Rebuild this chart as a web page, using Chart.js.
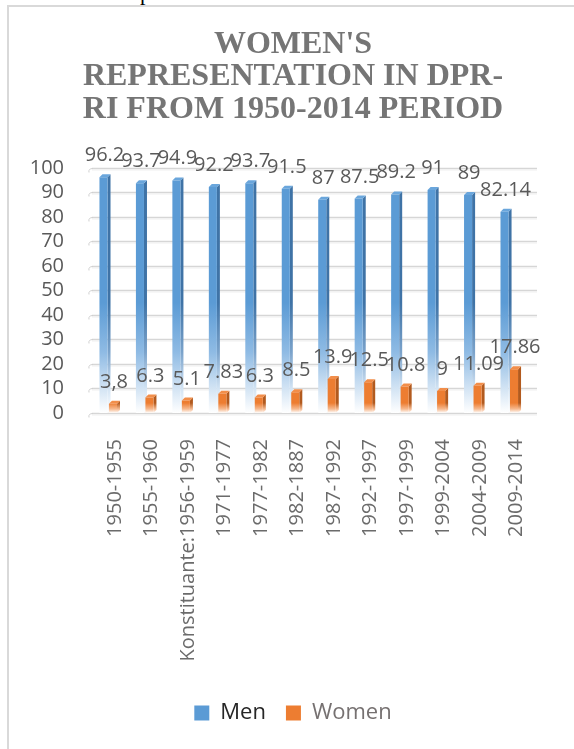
<!DOCTYPE html>
<html><head><meta charset="utf-8">
<script src="https://cdn.jsdelivr.net/npm/chart.js@4.4.0/dist/chart.umd.min.js"></script>
<style>
html,body{margin:0;padding:0;background:#fff;}
body{width:574px;height:749px;position:relative;overflow:hidden;}
#frame{position:absolute;left:7px;top:5px;right:-10px;bottom:-10px;border-left:2px solid #d9d9d9;border-top:2px solid #d9d9d9;}
#pchar{position:absolute;left:140px;top:-18px;font-family:"Liberation Serif",serif;font-size:22px;line-height:22px;color:#000;}
#wrap{position:absolute;left:0;top:0;width:574px;height:749px;}
</style></head><body>
<div id="pchar">p</div>
<div id="frame"></div>
<div id="wrap"><canvas id="c" width="574" height="749"></canvas></div>
<script>
const titleLines = ["WOMEN'S", "REPRESENTATION IN DPR-", "RI FROM 1950-2014 PERIOD"];
const categories = ['1950-1955','1955-1960','Konstituante:1956-1959','1971-1977','1977-1982','1982-1887','1987-1992','1992-1997','1997-1999','1999-2004','2004-2009','2009-2014'];
const seriesNames = ['Men','Women'];
const menValues = [96.2, 93.7, 94.9, 92.2, 93.7, 91.5, 87, 87.5, 89.2, 91, 89, 82.14];
const womenValues = [3.8, 6.3, 5.1, 7.83, 6.3, 8.5, 13.9, 12.5, 10.8, 9, 11.09, 17.86];
const menLabels = ['96.2','93.7','94.9','92.2','93.7','91.5','87','87.5','89.2','91','89','82.14'];
const womenLabels = ['3,8','6.3','5.1','7.83','6.3','8.5','13.9','12.5','10.8','9','11.09','17.86'];
const yMin = 0, yMax = 100, yStep = 10;

const BLUE = '#5b9bd5', BLUE_SIDE = '#3f73a6', BLUE_TOP = '#6aa6dc';
const ORANGE = '#ed7d31', ORANGE_SIDE = '#b25a1e', ORANGE_TOP = '#f28e4a';

function blueGrad(chart, color) {
  const ys = chart.scales.y;
  const g = chart.ctx.createLinearGradient(0, ys.getPixelForValue(45), 0, ys.getPixelForValue(0));
  g.addColorStop(0, color);
  g.addColorStop(0.45, color === BLUE ? '#8fbbe4' : '#7ba3cb');
  g.addColorStop(0.78, '#d3e4f4');
  g.addColorStop(1, '#ffffff');
  return g;
}
function orangeGrad(chart, color) {
  const ys = chart.scales.y;
  const b = ys.getPixelForValue(0);
  const g = chart.ctx.createLinearGradient(0, b - 10, 0, b);
  g.addColorStop(0, color);
  g.addColorStop(0.6, '#f6b98f');
  g.addColorStop(1, '#ffffff');
  return g;
}
function fill(ctx, which) {
  const chart = ctx.chart;
  if (!chart.chartArea) return which === 0 ? BLUE : ORANGE;
  return which === 0 ? blueGrad(chart, BLUE) : orangeGrad(chart, ORANGE);
}

const gridPlugin = {
  id: 'grid3d',
  beforeDatasetsDraw(chart) {
    const {ctx, chartArea} = chart;
    const ys = chart.scales.y;
    ctx.save();
    ys.ticks.forEach(t => {
      const y = Math.round(ys.getPixelForValue(t.value)) + 0.5;
      ctx.strokeStyle = '#d6d6d6';
      ctx.lineWidth = 1.5;
      ctx.beginPath();
      ctx.moveTo(chartArea.left + 2, y);
      ctx.lineTo(chartArea.right + 9.5, y);
      ctx.stroke();
      ctx.strokeStyle = '#efefef';
      ctx.lineWidth = 1;
      ctx.beginPath();
      ctx.moveTo(chartArea.left + 2, y + 1.5);
      ctx.lineTo(chartArea.right + 9.5, y + 1.5);
      ctx.stroke();
      ctx.strokeStyle = '#d0d0d0';
      ctx.lineWidth = 1;
      ctx.beginPath();
      ctx.moveTo(chartArea.left + 3, y);
      ctx.quadraticCurveTo(chartArea.left - 2, y, chartArea.left - 1, y + 4);
      ctx.stroke();
    });
    ctx.restore();
  }
};

const facesPlugin = {
  id: 'faces3d',
  beforeDatasetsDraw(chart) {
    const {ctx} = chart;
    const ys = chart.scales.y;
    const base = ys.getPixelForValue(0);
    const d = 3;
    ctx.save();
    chart.data.datasets.forEach((ds, di) => {
      const meta = chart.getDatasetMeta(di);
      const side = di === 0 ? blueGrad(chart, BLUE_SIDE) : orangeGrad(chart, ORANGE_SIDE);
      const top = di === 0 ? BLUE_TOP : ORANGE_TOP;
      meta.data.forEach(bar => {
        const p = bar.getProps(['x','y','width'], true);
        const l = p.x - p.width / 2, r = p.x + p.width / 2;
        ctx.fillStyle = side;
        ctx.beginPath();
        ctx.moveTo(r, p.y);
        ctx.lineTo(r + d, p.y - d);
        ctx.lineTo(r + d, base - d);
        ctx.lineTo(r, base);
        ctx.closePath();
        ctx.fill();
        ctx.fillStyle = top;
        ctx.beginPath();
        ctx.moveTo(l, p.y);
        ctx.lineTo(l + d, p.y - d);
        ctx.lineTo(r + d, p.y - d);
        ctx.lineTo(r, p.y);
        ctx.closePath();
        ctx.fill();
      });
    });
    ctx.restore();
  }
};

const valueLabels = [menLabels, womenLabels];
const labelPlugin = {
  id: 'valueLabels',
  afterDatasetsDraw(chart) {
    const {ctx} = chart;
    ctx.save();
    ctx.font = '20px "Open Sans"';
    ctx.fillStyle = '#595959';
    ctx.textAlign = 'center';
    ctx.textBaseline = 'alphabetic';
    chart.data.datasets.forEach((ds, di) => {
      const meta = chart.getDatasetMeta(di);
      meta.data.forEach((bar, i) => {
        const p = bar.getProps(['x','y'], true);
        ctx.fillText(valueLabels[di][i], p.x + 1, p.y - 16);
      });
    });
    ctx.restore();
  }
};

const legendFill = [BLUE, ORANGE];
const legendText = ['#262626', '#767171'];

new Chart(document.getElementById('c'), {
  type: 'bar',
  data: {
    labels: categories,
    datasets: [
      { label: seriesNames[0], data: menValues, backgroundColor: c => fill(c, 0), borderWidth: 0, categoryPercentage: 0.52, barPercentage: 0.85 },
      { label: seriesNames[1], data: womenValues, backgroundColor: c => fill(c, 1), borderWidth: 0, categoryPercentage: 0.52, barPercentage: 0.85 }
    ]
  },
  options: {
    responsive: false,
    animation: false,
    layout: { padding: { left: 12, right: 0, top: 0, bottom: 15 } },
    plugins: {
      title: {
        display: true, text: titleLines, color: '#757575',
        font: { family: '"Liberation Serif"', size: 32, weight: 'bold', lineHeight: 1.02 },
        padding: { top: 28, bottom: 42 }
      },
      legend: {
        position: 'bottom',
        labels: {
          boxWidth: 15, boxHeight: 15, padding: 20,
          font: { family: '"Open Sans"', size: 22 },
          generateLabels: chart => chart.data.datasets.map((ds, i) => ({
            text: ds.label, fillStyle: legendFill[i], strokeStyle: legendFill[i], lineWidth: 0,
            hidden: false, datasetIndex: i, fontColor: legendText[i]
          }))
        }
      },
      tooltip: { enabled: false }
    },
    scales: {
      x: {
        grid: { display: false }, border: { display: false },
        ticks: { color: '#6b6b6b', font: { family: '"Open Sans"', size: 20 }, minRotation: 90, maxRotation: 90, autoSkip: false, padding: 18, labelOffset: 7 },
        afterFit: s => { s.height = 269; }
      },
      y: {
        min: yMin, max: yMax,
        grid: { display: false }, border: { display: false },
        ticks: { stepSize: yStep, autoSkip: false, color: '#595959', font: { family: '"Open Sans"', size: 20 }, padding: 18 },
        afterFit: s => { s.width = 78; }
      },
      yRight: {
        position: 'right', display: true,
        grid: { display: false }, border: { display: false },
        ticks: { display: false },
        afterFit: s => { s.width = 46.5; }
      }
    }
  },
  plugins: [gridPlugin, facesPlugin, labelPlugin]
});
</script>
</body></html>
